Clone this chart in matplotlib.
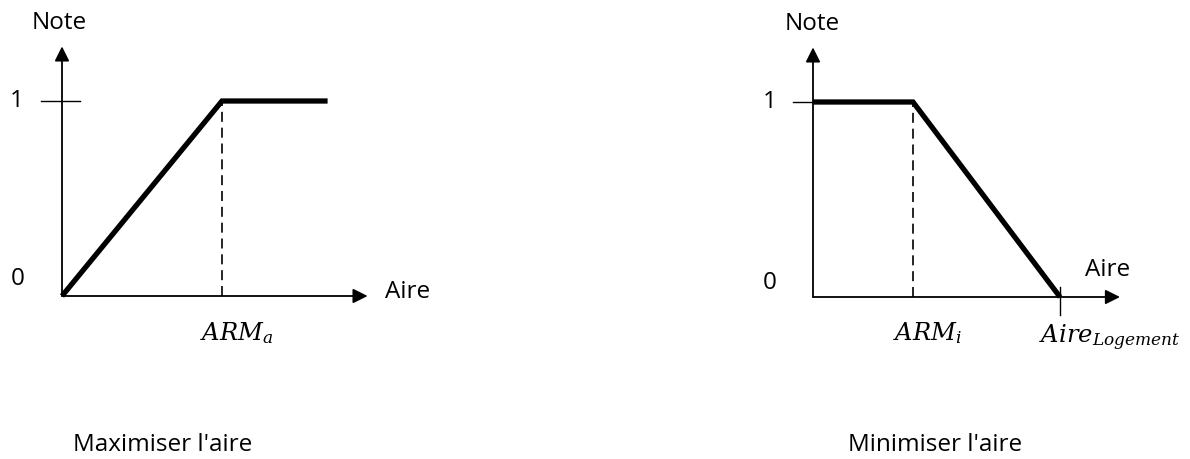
import matplotlib
matplotlib.use("Agg")
import matplotlib.pyplot as plt

plt.rcParams['mathtext.fontset'] = 'dejavuserif'
plt.rcParams['font.family'] = ['Open Sans', 'DejaVu Sans']

# ---- data ----
left_x = [0.0, 1.0, 1.66]       # 0, ARM_a, end
left_y = [0.0, 1.0, 1.0]
left_arm = 1.0
right_x = [0.0, 1.0, 2.47]      # 0, ARM_i, Aire_Logement
right_y = [1.0, 1.0, 0.0]
right_arm = 1.0
right_logement = 2.47
y_ticks = [0, 1]
y_tick_labels = ["0", "1"]
titles = ["Maximiser l'aire", "Minimiser l'aire"]

W, H = 1190, 459
fig = plt.figure(figsize=(W / 100, H / 100), dpi=100)

def make_axes(left_px, width_px, ox, oy, sx, sy):
    ax = fig.add_axes([left_px / W, 0, width_px / W, 1])
    ax.set_xlim(-(ox - left_px) / sx, (left_px + width_px - ox) / sx)
    ax.set_ylim(-(H - oy) / sy, oy / sy)
    ax.axis('off')
    return ax

def arrow(ax, x0, y0, x1, y1):
    ax.annotate('', xy=(x1, y1), xytext=(x0, y0),
                arrowprops=dict(arrowstyle='-|>', lw=1.3, color='black',
                                mutation_scale=22, shrinkA=0, shrinkB=0))

tfs = 17.5
mfs = 17.5

# ---- left panel ----
axL = make_axes(0, 595, 62, 296, 160, 195)
arrow(axL, 0, 0, 1.91, 0)
arrow(axL, 0, 0, 0, 1.28)
axL.plot([-0.13, 0.11], [1, 1], color='black', lw=1.0)
axL.plot([left_arm, left_arm], [0, 1], color='black', lw=1.2, dashes=(6, 3.5))
axL.plot(left_x, left_y, color='black', lw=3.8, solid_joinstyle='miter',
         solid_capstyle='butt')
axL.text(-0.28, y_ticks[1], y_tick_labels[1], fontsize=tfs, ha='center', va='center')
axL.text(-0.28, 0.085, y_tick_labels[0], fontsize=tfs, ha='center', va='center')
axL.text(-0.02, 1.40, "Note", fontsize=tfs, ha='center', va='center')
axL.text(2.02, 0.02, "Aire", fontsize=tfs, ha='left', va='center')
axL.text(left_arm + 0.09, -0.225, r"$ARM_a$", fontsize=mfs, ha='center', va='baseline')

# ---- right panel ----
axR = make_axes(595, 595, 813, 297, 100, 195)
arrow(axR, 0, 0, 3.07, 0)
arrow(axR, 0, 0, 0, 1.28)
axR.plot([-0.2, 0], [1, 1], color='black', lw=1.0)
axR.plot([right_arm, right_arm], [0, 1], color='black', lw=1.2, dashes=(6, 3.5))
axR.plot([right_logement, right_logement], [0.05, -0.092], color='black', lw=1.0)
axR.plot(right_x, right_y, color='black', lw=3.8, solid_joinstyle='miter',
         solid_capstyle='butt')
axR.text(-0.43, y_ticks[1], y_tick_labels[1], fontsize=tfs, ha='center', va='center')
axR.text(-0.43, 0.072, y_tick_labels[0], fontsize=tfs, ha='center', va='center')
axR.text(-0.01, 1.40, "Note", fontsize=tfs, ha='center', va='center')
axR.text(2.95, 0.14, "Aire", fontsize=tfs, ha='center', va='center')
axR.text(right_arm + 0.15, -0.220, r"$ARM_i$", fontsize=mfs, ha='center', va='baseline')
axR.text(right_logement + 0.5, -0.236, r"$Aire_{Logement}$", fontsize=mfs,
         ha='center', va='baseline')

fig.text(163 / W, 1 - 445 / H, titles[0], fontsize=tfs, ha='center', va='center')
fig.text(935 / W, 1 - 445 / H, titles[1], fontsize=tfs, ha='center', va='center')

fig.savefig("out.png", dpi=100, facecolor='white')
